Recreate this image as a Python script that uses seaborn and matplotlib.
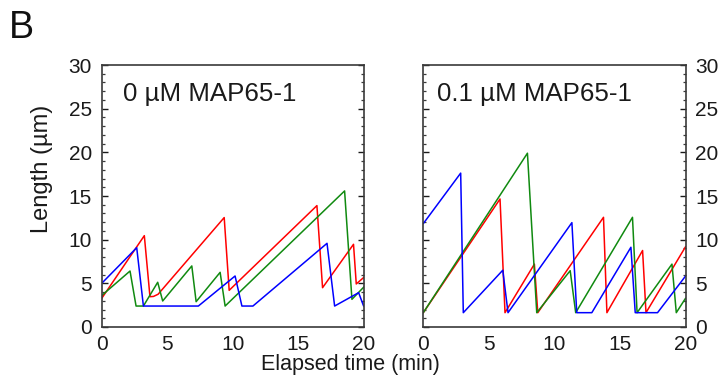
import numpy as np
import pandas as pd
import matplotlib
matplotlib.use("Agg")
import matplotlib.pyplot as plt
import seaborn as sns
from matplotlib.ticker import MultipleLocator

# ---------------- data ----------------
panel_titles = ["0 µM MAP65-1", "0.1 µM MAP65-1"]
series_names = ["red", "green", "blue"]
x_ticks = [0, 5, 10, 15, 20]
y_ticks = [0, 5, 10, 15, 20, 25, 30]

# panel 1: 0 uM MAP65-1
p0_red_t = [0, 3.25, 3.68, 3.95, 4.3, 9.34, 9.72, 16.41, 16.84, 19.2, 19.41, 20]
p0_red_L = [3.28, 10.46, 3.47, 3.5, 3.75, 12.53, 4.2, 13.9, 4.5, 9.47, 4.93, 5.7]
p0_green_t = [0, 2.16, 2.62, 3.18, 4.27, 4.65, 6.87, 7.2, 9.03, 9.41, 18.52, 19.08, 20]
p0_green_L = [3.6, 6.41, 2.4, 2.4, 5.12, 2.98, 6.99, 2.9, 6.26, 2.4, 15.58, 3.17, 4.6]
p0_blue_t = [0, 2.67, 3.18, 7.37, 10.17, 10.69, 11.53, 17.18, 17.76, 19.59, 19.97, 20]
p0_blue_L = [5.0, 9.08, 2.4, 2.4, 5.84, 2.4, 2.4, 9.58, 2.4, 3.93, 2.4, 2.4]

# panel 2: 0.1 uM MAP65-1
p1_red_t = [0, 5.85, 6.23, 8.47, 8.73, 13.74, 14.0, 16.72, 16.98, 20]
p1_red_L = [1.64, 14.66, 1.64, 7.2, 1.64, 12.56, 1.64, 8.76, 1.64, 9.2]
p1_green_t = [0, 7.94, 8.65, 11.2, 11.62, 15.95, 16.3, 18.96, 19.29, 20]
p1_green_L = [1.64, 19.9, 1.64, 6.45, 1.64, 12.56, 1.64, 7.2, 1.64, 3.3]
p1_blue_t = [0, 2.85, 3.05, 6.06, 6.46, 11.33, 11.7, 12.85, 15.83, 16.16, 17.86, 20]
p1_blue_L = [11.84, 17.62, 1.64, 6.5, 1.64, 11.95, 1.64, 1.64, 9.13, 1.64, 1.64, 5.84]

# ---------------- build table ----------------
rows = []
panel_data = [
    {"red": (p0_red_t, p0_red_L), "green": (p0_green_t, p0_green_L), "blue": (p0_blue_t, p0_blue_L)},
    {"red": (p1_red_t, p1_red_L), "green": (p1_green_t, p1_green_L), "blue": (p1_blue_t, p1_blue_L)},
]
for pi, pdict in enumerate(panel_data):
    for s in series_names:
        t, L = pdict[s]
        for i, (tt, ll) in enumerate(zip(t, L)):
            rows.append({"panel": pi, "series": s, "order": i, "time": tt, "length": ll})
df = pd.DataFrame(rows)

palette = {"red": "#ff0000", "green": "#108a10", "blue": "#0000ff"}

sns.set_theme(style="white")
plt.rcParams["font.family"] = ["Liberation Sans", "DejaVu Sans"]
plt.rcParams["axes.edgecolor"] = "#3a3a3a"
plt.rcParams["axes.linewidth"] = 1.2

fig = plt.figure(figsize=(7.27, 3.9), dpi=100)
W, H = 727.0, 390.0
ax_bottom = (H - 327) / H
ax_h = 262 / H
ax_w = 262.3 / W
lefts = [101.7 / W, 423.3 / W]
text_x = [0.083, 0.052]

for pi in range(2):
    ax = fig.add_axes([lefts[pi], ax_bottom, ax_w, ax_h])
    sub = df[df["panel"] == pi]
    for s in series_names:
        d = sub[sub["series"] == s]
        sns.lineplot(data=d, x="time", y="length", color=palette[s], sort=False,
                     estimator=None, linewidth=1.1, ax=ax, legend=False)
    ax.set_xlim(0, 20)
    ax.set_ylim(0, 30)
    ax.set_xticks(x_ticks)
    ax.set_xticklabels([str(v) for v in x_ticks])
    ax.set_yticks(y_ticks)
    ax.set_yticklabels([str(v) for v in y_ticks])
    ax.yaxis.set_minor_locator(MultipleLocator(1))
    ax.set_xlabel("")
    ax.set_ylabel("")
    ax.tick_params(axis="x", which="both", length=0, pad=6, labelsize=15, colors="#1a1a1a")
    ax.tick_params(axis="y", which="major", direction="in", length=4, width=1.0,
                   left=True, right=True, pad=7, labelsize=15, colors="#1a1a1a")
    ax.tick_params(axis="y", which="minor", direction="in", length=2.2, width=0.9,
                   left=True, right=True, colors="#3a3a3a")
    if pi == 1:
        ax.tick_params(axis="y", which="both", labelleft=False, labelright=True)
    ax.text(text_x[pi], 0.864, panel_titles[pi], transform=ax.transAxes,
            fontsize=18.6, va="baseline", ha="left", color="#1a1a1a")
    for sp in ax.spines.values():
        sp.set_visible(True)
        sp.set_color("#3a3a3a")
        sp.set_linewidth(1.2)
    if pi == 0:
        ax.set_ylabel("Length (µm)", fontsize=17, va="center", color="#1a1a1a")
        ax.yaxis.set_label_coords(-0.229, 0.603)

fig.text(350 / W, 1 - 370 / H, "Elapsed time (min)", fontsize=15.5, ha="center",
         va="baseline", color="#1a1a1a")
fig.text(9 / W, 1 - 38 / H, "B", fontsize=27, ha="left", va="baseline", color="#111111")

fig.savefig("out.png", dpi=100)
